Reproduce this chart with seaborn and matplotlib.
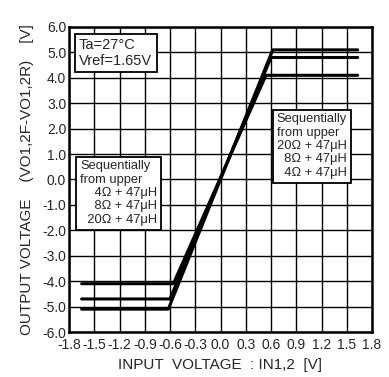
import matplotlib
matplotlib.use("Agg")
import matplotlib.pyplot as plt
import seaborn as sns
import numpy as np
import pandas as pd

sns.set_theme(style="white")
plt.rcParams['font.family'] = ['Liberation Sans', 'DejaVu Sans']

x_4 = [-1.65, -0.56, 0.54, 1.63]
y_4 = [-4.1, -4.1, 4.1, 4.1]
x_8 = [-1.65, -0.60, 0.60, 1.63]
y_8 = [-4.7, -4.7, 4.8, 4.8]
x_20 = [-1.65, -0.62, 0.62, 1.63]
y_20 = [-5.1, -5.1, 5.1, 5.1]
xticks = [-1.8, -1.5, -1.2, -0.9, -0.6, -0.3, 0.0, 0.3, 0.6, 0.9, 1.2, 1.5, 1.8]
yticks = [-6.0, -5.0, -4.0, -3.0, -2.0, -1.0, 0.0, 1.0, 2.0, 3.0, 4.0, 5.0, 6.0]

df = pd.concat([
    pd.DataFrame({"x": x_4, "y": y_4, "load": "4Ω"}),
    pd.DataFrame({"x": x_8, "y": y_8, "load": "8Ω"}),
    pd.DataFrame({"x": x_20, "y": y_20, "load": "20Ω"}),
])

fig = plt.figure(figsize=(3.89, 3.77), dpi=100)
ax = fig.add_axes([69/389, 1 - 332/377, (372-69)/389, (332-27)/377])
sns.lineplot(data=df, x="x", y="y", units="load", estimator=None, sort=False,
             color="black", linewidth=2.2, ax=ax, legend=False)
ax.set_xlim(-1.8, 1.8)
ax.set_ylim(-6, 6)
ax.set_xticks(xticks)
ax.set_yticks(yticks)
ax.set_xticklabels([f"{v:.1f}" for v in xticks], fontsize=10)
ax.set_yticklabels([f"{v:.1f}" for v in yticks], fontsize=10)
ax.tick_params(axis='x', length=0, pad=4)
ax.tick_params(axis='y', length=0, pad=2)
ax.grid(True, color="black", linewidth=1.0)
for s in ax.spines.values():
    s.set_color("black")
    s.set_linewidth(1.8)
ax.set_xlabel("INPUT  VOLTAGE  : IN1,2  [V]", fontsize=11, labelpad=5)
ax.set_ylabel("OUTPUT VOLTAGE    (VO1,2F-VO1,2R)    [V]", fontsize=11, labelpad=6)

bbox = dict(boxstyle="square,pad=0.3", facecolor="white", edgecolor="black", linewidth=1.3)
ax.text(-1.68, 5.55, "Ta=27°C\nVref=1.65V", fontsize=10.5, va="top", ha="left",
        bbox=bbox, linespacing=1.1)
ax.text(-1.67, 0.75, "Sequentially\nfrom upper\n    4Ω + 47μH\n    8Ω + 47μH\n  20Ω + 47μH",
        fontsize=9.3, va="top", ha="left", bbox=bbox, linespacing=1.15)
ax.text(0.67, 2.6, "Sequentially\nfrom upper\n20Ω + 47μH\n  8Ω + 47μH\n  4Ω + 47μH",
        fontsize=9.3, va="top", ha="left", bbox=bbox, linespacing=1.15)

fig.savefig("out.png", dpi=100)
